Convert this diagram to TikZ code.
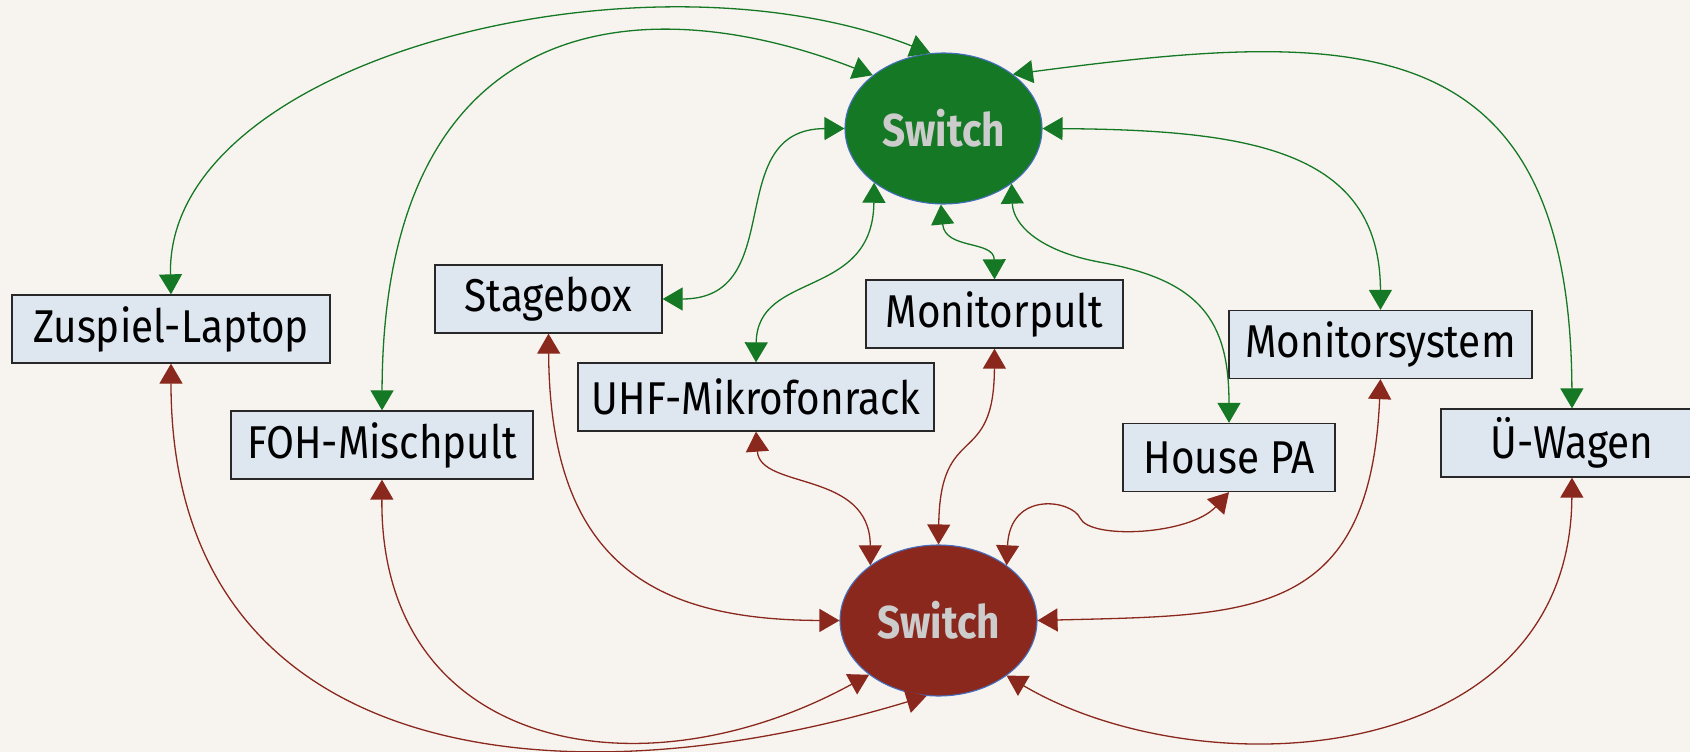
\documentclass[tikz,border=0pt]{standalone}
\usepackage{fontspec}
\setmainfont{Fira Sans}[FakeStretch=0.88]
\usetikzlibrary{arrows.meta,shapes.geometric}
\definecolor{bgcol}{RGB}{247,244,239}
\definecolor{boxfill}{RGB}{222,230,240}
\definecolor{boxline}{RGB}{40,40,40}
\definecolor{netgreen}{RGB}{21,120,36}
\definecolor{netred}{RGB}{138,40,30}
\definecolor{rimblue}{RGB}{70,110,190}
\definecolor{swtext}{RGB}{204,204,204}
\tikzset{
  device/.style={draw=boxline, line width=1.3pt, fill=boxfill, inner sep=0pt,
    minimum height=68pt, font=\fontsize{46}{50}\selectfont, text=black},
  switchnode/.style={ellipse, draw=rimblue, line width=1.1pt, inner sep=0pt,
    minimum width=197pt, minimum height=151pt,
    font=\fontsize{46}{50}\selectfont\bfseries, text=swtext},
  link/.style={line width=1.3pt, {Triangle[length=20pt,width=23pt]}-{Triangle[length=20pt,width=23pt]}},
  glink/.style={link, draw=netgreen},
  rlink/.style={link, draw=netred},
}
\begin{document}
\begin{tikzpicture}[x=1pt,y=-1pt]
  \fill[bgcol] (0,0) rectangle (1690,752);
  \clip (0,0) rectangle (1690,752);
  \useasboundingbox (0,0) rectangle (1690,752);

  % the two network switches
  \node[switchnode, fill=netgreen] (gsw) at (943.5,128.5) {Switch};
  \node[switchnode, fill=netred]   (rsw) at (938.5,620.5) {Switch};

  % devices
  \node[device, minimum width=318pt] (laptop) at (171,329)    {Zuspiel-Laptop};
  \node[device, minimum width=227pt] (stage)  at (548.5,299)  {Stagebox};
  \node[device, minimum width=257pt] (mpult)  at (994.5,314)  {Monitorpult};
  \node[device, minimum width=356pt] (uhf)    at (756,397)    {UHF-Mikrofonrack};
  \node[device, minimum width=302pt] (foh)    at (382,445)    {FOH-Mischpult};
  \node[device, minimum width=303pt] (msys)   at (1380.5,344.5) {Monitorsystem};
  \node[device, minimum width=212pt] (pa)     at (1229,457.5) {House PA};
  \node[device, minimum width=262pt] (uw)     at (1572,443)   {Ü-Wagen};

  % green network
  \draw[glink] (laptop.north) .. controls (165,60) and (640,-60) .. (gsw.100);
  \draw[glink] (foh.north) .. controls (383,10) and (640,-15) .. (gsw.143);
  \draw[glink] (stage.east) .. controls (790,299) and (720,129) .. (gsw.180);
  \draw[glink] (uhf.north) .. controls (757,270) and (873,300) .. (gsw.218);
  \draw[glink] (mpult.north) .. controls (994,240) and (945,250) .. (gsw.268);
  \draw[glink] (pa.north) .. controls (1229,320) and (1200,280) .. (1099,262)
                .. controls (1040,251) and (1013,225) .. (gsw.-39);
  \draw[glink] (msys.north) .. controls (1380,150) and (1250,130) .. (gsw.0);
  \draw[glink] (uw.north) .. controls (1570,20) and (1350,30) .. (gsw.38);

  % red network
  \draw[rlink] (laptop.south) .. controls (171,760) and (550,810) .. (rsw.261);
  \draw[rlink] (foh.south) .. controls (380,750) and (640,800) .. (rsw.218);
  \draw[rlink] (stage.south) .. controls (550,560) and (650,620) .. (rsw.180);
  \draw[rlink] (uhf.south) .. controls (760,490) and (870,470) .. (rsw.141);
  \draw[rlink] (mpult.south) .. controls (994,470) and (940,420) .. (rsw.90);
  \draw[rlink] (pa.south) .. controls (1190,535) and (1090,540) .. (1080,518)
                .. controls (1072,500) and (1010,490) .. (rsw.39);
  \draw[rlink] (msys.south) .. controls (1370,620) and (1250,615) .. (rsw.0);
  \draw[rlink] (uw.south) .. controls (1570,770) and (1200,790) .. (rsw.-39);
\end{tikzpicture}
\end{document}
